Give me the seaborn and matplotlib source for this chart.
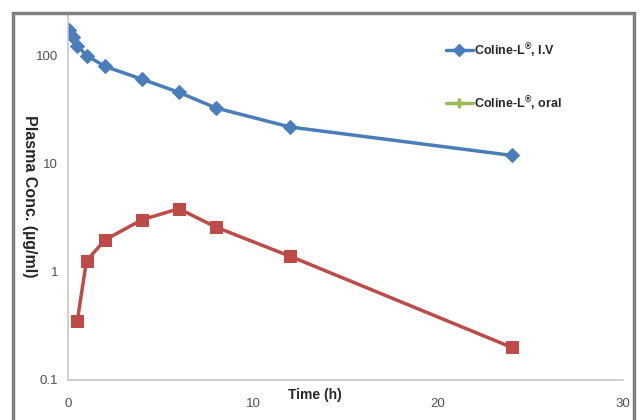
import matplotlib
matplotlib.use('Agg')
import matplotlib.pyplot as plt
from matplotlib.lines import Line2D
from matplotlib.patches import Rectangle
import seaborn as sns

# Данные: время (ч) и концентрация (мкг/мл)
t_iv = [0.05, 0.25, 0.5, 1, 2, 4, 6, 8, 12, 24]
c_iv = [174, 150, 125, 101, 80, 61, 46, 33, 22, 12]

t_oral = [0.5, 1, 2, 4, 6, 8, 12, 24]
c_oral = [0.35, 1.27, 1.98, 3.05, 3.85, 2.6, 1.4, 0.2]

label_iv = 'Coline-L$^{®}$, I.V'
label_oral = 'Coline-L$^{®}$, oral'

sns.set_style('white')
plt.rcParams['font.family'] = ['Liberation Sans', 'DejaVu Sans']
plt.rcParams['mathtext.fontset'] = 'custom'
plt.rcParams['mathtext.rm'] = 'Liberation Sans:bold'
plt.rcParams['mathtext.default'] = 'rm'

blue = '#4a7ebb'
red = '#be4b48'
green = '#9bbb59'

fig = plt.figure(figsize=(6.44, 4.2), dpi=100)
ax = fig.add_axes([68 / 644, 40 / 420, 555 / 644, 367 / 420])

sns.lineplot(x=t_iv, y=c_iv, ax=ax, color=blue, marker='D', markersize=7,
             markeredgecolor=blue, linewidth=2.5)
sns.lineplot(x=t_oral, y=c_oral, ax=ax, color=red, marker='s', markersize=9,
             markeredgecolor=red, linewidth=2.5)

ax.set_yscale('log')
ax.set_ylim(0.1, 250)
ax.set_xlim(0, 30)
ax.set_xticks([0, 10, 20, 30])
ax.set_yticks([0.1, 1, 10, 100])
ax.set_yticklabels(['0.1', '1', '10', '100'])
ax.minorticks_off()
ax.tick_params(axis='both', labelsize=9.5, colors='#505050', length=4,
               width=1, color='#b0b0b0')
ax.tick_params(axis='x', pad=9)
ax.tick_params(axis='y', pad=3)

for side in ['top', 'right']:
    ax.spines[side].set_visible(False)
for side in ['left', 'bottom']:
    ax.spines[side].set_color('#c8c8c8')
    ax.spines[side].set_linewidth(1.2)

ax.set_xlabel('Time (h)', fontsize=10, fontweight='bold', va='center')
ax.xaxis.set_label_coords(247 / 555, -15 / 367)
ax.set_ylabel('Plasma Conc. (µg/ml)', fontsize=11.5, fontweight='bold',
              rotation=-90, va='center', ha='center', rotation_mode='default')
ax.yaxis.set_label_coords(-39 / 555, 0.5)

handles = [Line2D([], [], color=blue, marker='D', markersize=6, linewidth=2.5),
           Line2D([], [], color=green, marker='+', markersize=7,
                  markeredgewidth=2.5, linewidth=2.5)]
ax.legend(handles, [label_iv, label_oral], loc='upper left',
          bbox_to_anchor=(0.66, 0.955), frameon=False, labelspacing=2.8,
          handlelength=2.2, handletextpad=0.1,
          prop={'weight': 'bold', 'size': 9})

# Внешняя рамка диаграммы
fig.patches.append(Rectangle((13 / 644, -0.05), 621 / 644, 1.05 - 13 / 420,
                             transform=fig.transFigure, fill=False,
                             edgecolor='#808080', linewidth=2.5))

plt.savefig('out.png', dpi=100)
